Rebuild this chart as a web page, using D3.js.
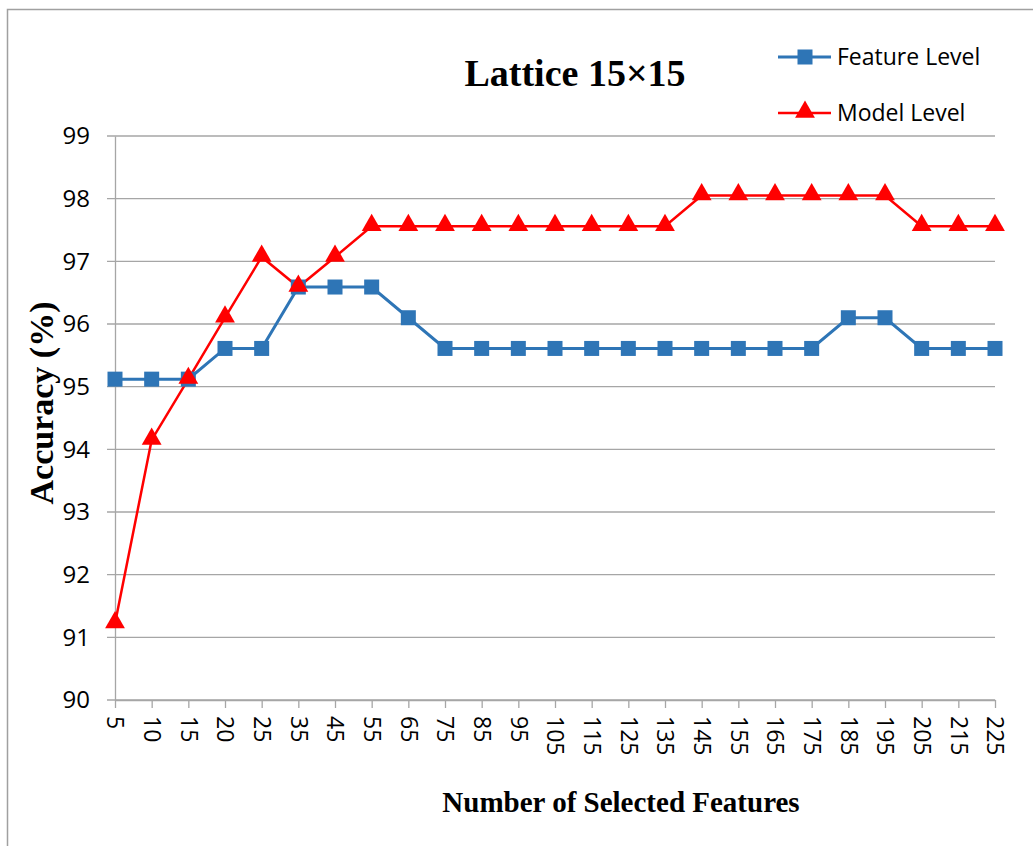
<!DOCTYPE html>
<html>
<head>
<meta charset="utf-8">
<script src="https://cdn.jsdelivr.net/npm/d3@7"></script>
<style>
  body { margin: 0; background: #fff; }
  svg { display: block; }
</style>
</head>
<body>
<div id="chart"></div>
<script>
// values
const features = ['5','10','15','20','25','35','45','55','65','75','85','95','105','115','125','135','145','155','165','175','185','195','205','215','225'];
const featureLevel = [95.12,95.12,95.12,95.61,95.61,96.59,96.59,96.59,96.10,95.61,95.61,95.61,95.61,95.61,95.61,95.61,95.61,95.61,95.61,95.61,96.10,96.10,95.61,95.61,95.61];
const modelLevel = [91.22,94.15,95.12,96.10,97.07,96.59,97.07,97.56,97.56,97.56,97.56,97.56,97.56,97.56,97.56,97.56,98.05,98.05,98.05,98.05,98.05,98.05,97.56,97.56,97.56];
const yTicks = [90,91,92,93,94,95,96,97,98,99];

const width = 1033, height = 846;
const margin = {top: 136, right: 38, bottom: 146, left: 115};

const svg = d3.select('#chart').append('svg')
  .attr('width', width)
  .attr('height', height);

// outer frame (cut off at right and bottom)
svg.append('rect')
  .attr('x', 7.5).attr('y', 9.5)
  .attr('width', width + 20).attr('height', height + 20)
  .attr('fill', 'none')
  .attr('stroke', '#a0a0a0')
  .attr('stroke-width', 1.5);

const x = d3.scalePoint()
  .domain(features)
  .range([margin.left, width - margin.right]);

const y = d3.scaleLinear()
  .domain([90, 99])
  .range([height - margin.bottom, margin.top]);

// gridlines
svg.append('g')
  .selectAll('line')
  .data(yTicks)
  .join('line')
    .attr('x1', margin.left - 8)
    .attr('x2', width - margin.right)
    .attr('y1', d => y(d))
    .attr('y2', d => y(d))
    .attr('stroke', '#a6a6a6')
    .attr('stroke-width', 1.3);

const tickFont = '"Open Sans", sans-serif';

// y axis
const yAxis = svg.append('g')
  .attr('transform', `translate(${margin.left},0)`)
  .call(d3.axisLeft(y).tickValues(yTicks).tickSize(0).tickPadding(25));
yAxis.select('.domain').attr('stroke', '#a6a6a6').attr('stroke-width', 1.3);
yAxis.selectAll('text')
  .attr('font-family', tickFont)
  .attr('font-size', 24)
  .attr('fill', '#000');

// x axis
const xAxis = svg.append('g')
  .attr('transform', `translate(0,${y(90)})`)
  .call(d3.axisBottom(x).tickSize(8).tickSizeOuter(0));
xAxis.select('.domain').attr('stroke', '#a6a6a6').attr('stroke-width', 1.3);
xAxis.selectAll('.tick line').attr('stroke', '#a6a6a6').attr('stroke-width', 1.3);
xAxis.selectAll('text')
  .attr('font-family', tickFont)
  .attr('font-size', 23)
  .attr('fill', '#000')
  .attr('transform', 'rotate(90)')
  .attr('x', 16)
  .attr('y', 0)
  .attr('dy', '0.35em')
  .style('text-anchor', 'start');

const blue = '#2e75b6', red = '#ff0000';

const line = d3.line()
  .x((d, i) => x(features[i]))
  .y(d => y(d));

// feature level
svg.append('path')
  .datum(featureLevel)
  .attr('fill', 'none')
  .attr('stroke', blue)
  .attr('stroke-width', 3)
  .attr('d', line);

// model level
svg.append('path')
  .datum(modelLevel)
  .attr('fill', 'none')
  .attr('stroke', red)
  .attr('stroke-width', 2.5)
  .attr('d', line);

const sq = 15;
svg.append('g')
  .selectAll('rect')
  .data(featureLevel)
  .join('rect')
    .attr('x', (d, i) => x(features[i]) - sq / 2)
    .attr('y', d => y(d) - sq / 2)
    .attr('width', sq)
    .attr('height', sq)
    .attr('fill', blue);

const tri = d3.symbol().type(d3.symbolTriangle).size(170);
svg.append('g')
  .selectAll('path')
  .data(modelLevel)
  .join('path')
    .attr('transform', (d, i) => `translate(${x(features[i])},${y(d) - 1})`)
    .attr('d', tri)
    .attr('fill', red);

// title
svg.append('text')
  .attr('x', 575)
  .attr('y', 86)
  .attr('text-anchor', 'middle')
  .attr('font-family', '"Liberation Serif", serif')
  .attr('font-weight', 'bold')
  .attr('font-size', 38)
  .text('Lattice 15×15');

// axis titles
svg.append('text')
  .attr('x', 621)
  .attr('y', 812)
  .attr('text-anchor', 'middle')
  .attr('font-family', '"Liberation Serif", serif')
  .attr('font-weight', 'bold')
  .attr('font-size', 29)
  .text('Number of Selected Features');

svg.append('text')
  .attr('transform', 'translate(53,403) rotate(-90)')
  .attr('text-anchor', 'middle')
  .attr('font-family', '"Liberation Serif", serif')
  .attr('font-weight', 'bold')
  .attr('font-size', 34)
  .text('Accuracy (%)');

// legend
const legendItems = [
  {name: 'Feature Level', color: blue, type: 'square'},
  {name: 'Model Level', color: red, type: 'triangle'}
];
const legend = svg.append('g')
  .selectAll('g')
  .data(legendItems)
  .join('g')
    .attr('transform', (d, i) => `translate(778,${57 + i * 56})`);
legend.append('line')
  .attr('x1', 0).attr('x2', 53)
  .attr('stroke', d => d.color)
  .attr('stroke-width', d => d.type === 'square' ? 3 : 2.5);
legend.filter(d => d.type === 'square').append('rect')
  .attr('x', 27 - sq / 2).attr('y', -sq / 2)
  .attr('width', sq).attr('height', sq)
  .attr('fill', blue);
legend.filter(d => d.type === 'triangle').append('path')
  .attr('transform', 'translate(27,-1)')
  .attr('d', tri)
  .attr('fill', red);
legend.append('text')
  .attr('x', 59)
  .attr('dy', '0.35em')
  .attr('font-family', tickFont)
  .attr('font-size', 23)
  .text(d => d.name);
</script>
</body>
</html>
